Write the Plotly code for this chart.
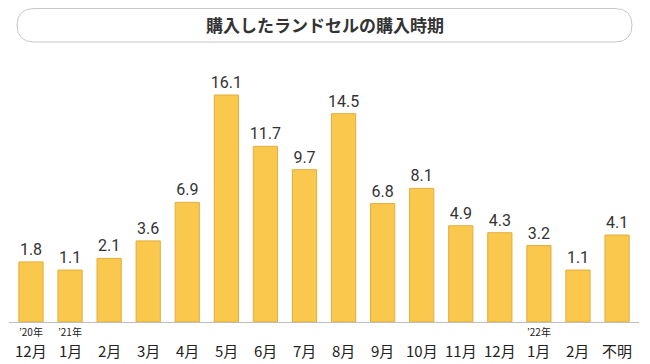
import plotly.graph_objects as go

# ---- data ----
months = ["12月", "1月", "2月", "3月", "4月", "5月", "6月", "7月", "8月",
          "9月", "10月", "11月", "12月", "1月", "2月", "不明"]
years = ["’20年", "’21年", "", "", "", "", "", "", "", "", "", "", "", "’22年", "", ""]
values = [1.8, 1.1, 2.1, 3.6, 6.9, 16.1, 11.7, 9.7, 14.5, 6.8, 8.1, 4.9, 4.3, 3.2, 1.1, 4.1]
title_text = "購入したランドセルの購入時期"

# ---- layout helpers (page pixel -> paper); page body has an 8px margin ----
OX, OY = 8, 8
W, H = 650 - OX, 364 - OY
OFFSET = 3.35  # visual base offset used in the original infographic


def px(x):
    return (x - OX) / W


def py(y):
    return 1 - (y - OY) / H


xs = list(range(len(values)))

fig = go.Figure()
fig.add_trace(go.Bar(
    x=xs,
    y=[v + OFFSET for v in values],
    base=-OFFSET,
    width=0.62,
    text=[f"{v:.1f}" for v in values],
    textposition="outside",
    constraintext="none",
    textfont=dict(family="Roboto", size=16, color="#333333"),
    cliponaxis=False,
    marker=dict(color="#F9C84C", line=dict(color="#E3AE3C", width=1)),
    hoverinfo="skip",
))

spacing = 39.07
c0 = 31 - OX
r0 = -c0 / spacing
r1 = r0 + W / spacing
k = 11.67
base_y = 322 - OY
y_top = -OFFSET + base_y / k
y_bot = -OFFSET - (H - base_y) / k

annotations = []
for i, (m, yr) in enumerate(zip(months, years)):
    annotations.append(dict(x=i, y=py(350), xref="x", yref="paper", text=m,
                            showarrow=False, yanchor="middle",
                            font=dict(family="Noto Sans CJK JP", size=15, color="#222222")))
    if yr:
        annotations.append(dict(x=i, y=py(331), xref="x", yref="paper", text=yr,
                                showarrow=False, yanchor="middle",
                                font=dict(family="Noto Sans CJK JP", size=10, color="#222222")))

annotations.append(dict(x=px(325), y=py(25), xref="paper", yref="paper", text=f"<b>{title_text}</b>",
                        showarrow=False, xanchor="center", yanchor="middle",
                        font=dict(family="Noto Sans CJK JP", size=17, color="#333333")))

# rounded pill box for title
x0, x1, y0, y1, r = 17, 632, 8.5, 42, 17
path = (f"M {px(x0 + r)},{py(y0)} L {px(x1 - r)},{py(y0)} "
        f"Q {px(x1)},{py(y0)} {px(x1)},{py(y0 + r)} "
        f"L {px(x1)},{py(y1 - r)} Q {px(x1)},{py(y1)} {px(x1 - r)},{py(y1)} "
        f"L {px(x0 + r)},{py(y1)} Q {px(x0)},{py(y1)} {px(x0)},{py(y1 - r)} "
        f"L {px(x0)},{py(y0 + r)} Q {px(x0)},{py(y0)} {px(x0 + r)},{py(y0)} Z")

shapes = [
    dict(type="path", xref="paper", yref="paper", path=path,
         line=dict(color="#C8C8C8", width=1), fillcolor="rgba(0,0,0,0)"),
    dict(type="line", xref="paper", yref="paper", x0=px(9), x1=px(639), y0=py(322.5), y1=py(322.5),
         line=dict(color="#BDBDBD", width=1)),
]

fig.update_layout(
    width=W, height=H,
    margin=dict(l=0, r=0, t=0, b=0),
    paper_bgcolor="white", plot_bgcolor="white",
    showlegend=False,
    xaxis=dict(range=[r0, r1], visible=False, fixedrange=True),
    yaxis=dict(range=[y_bot, y_top], visible=False, fixedrange=True),
    annotations=annotations,
    shapes=shapes,
)

fig.write_html("out.html")
